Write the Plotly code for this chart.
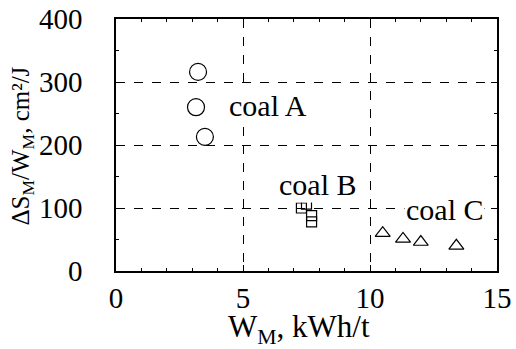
import plotly.graph_objects as go

coalA_x = [3.23, 3.15, 3.5]
coalA_y = [316, 260, 213]
coalB_x = [7.3, 7.5, 7.7, 7.7]
coalB_y = [100, 106, 88, 78]
coalC_x = [10.5, 11.3, 12.0, 13.4]
coalC_y = [60, 51, 46, 40]

labels = ["coal A", "coal B", "coal C"]
label_x = [6.0, 7.95, 12.95]
label_y = [262, 137, 97]

x_title = "W<sub>M</sub>, kWh/t"
y_title = "ΔS<sub>M</sub>/W<sub>M</sub>, cm²/J"

FONT = "Liberation Serif"
FS = 29
fig = go.Figure()
fig.add_trace(go.Scatter(x=coalA_x, y=coalA_y, mode="markers",
                         marker=dict(symbol="circle-open", size=17, color="black", line=dict(width=1.2))))
fig.add_trace(go.Scatter(x=coalB_x, y=coalB_y, mode="markers",
                         marker=dict(symbol="square-open", size=10, color="black", line=dict(width=1.2))))
fig.add_trace(go.Scatter(x=coalC_x, y=coalC_y, mode="markers",
                         marker=dict(symbol="triangle-up-open", size=13, color="black", line=dict(width=1.2))))

for t, x, y in zip(labels, label_x, label_y):
    fig.add_annotation(x=x, y=y, text=t, showarrow=False, bgcolor="white",
                       font=dict(family=FONT, size=30, color="black"))

fig.add_annotation(xref="paper", yref="paper", x=0.48, y=-0.232, text=x_title,
                   showarrow=False, xanchor="center", yanchor="middle",
                   font=dict(family=FONT, size=31, color="black"))
fig.add_annotation(xref="paper", yref="paper", x=-0.248, y=0.496, text=y_title,
                   showarrow=False, xanchor="center", yanchor="middle", textangle=-90,
                   font=dict(family=FONT, size=25, color="black"))

axis_common = dict(showline=True, linecolor="black", linewidth=1.5, mirror="allticks",
                   ticks="inside", ticklen=6, tickcolor="black", zeroline=False,
                   showgrid=True, gridcolor="black", griddash="dash", gridwidth=1,
                   automargin=False,
                   tickfont=dict(family=FONT, size=FS, color="black"))

fig.update_xaxes(range=[0, 15], tickvals=[0, 5, 10, 15], ticklabelstandoff=0,
                 minor=dict(dtick=1, ticks="inside", ticklen=3, tickcolor="black", showgrid=False),
                 **axis_common)
fig.update_yaxes(range=[0, 400], tickvals=[0, 100, 200, 300, 400], ticklabelstandoff=26,
                 minor=dict(dtick=50, ticks="inside", ticklen=3, tickcolor="black", showgrid=False),
                 **axis_common)

fig.update_layout(width=516, height=349, margin=dict(l=116, r=19, t=19, b=78),
                  plot_bgcolor="white", paper_bgcolor="white", showlegend=False)
fig.write_html("out.html")
